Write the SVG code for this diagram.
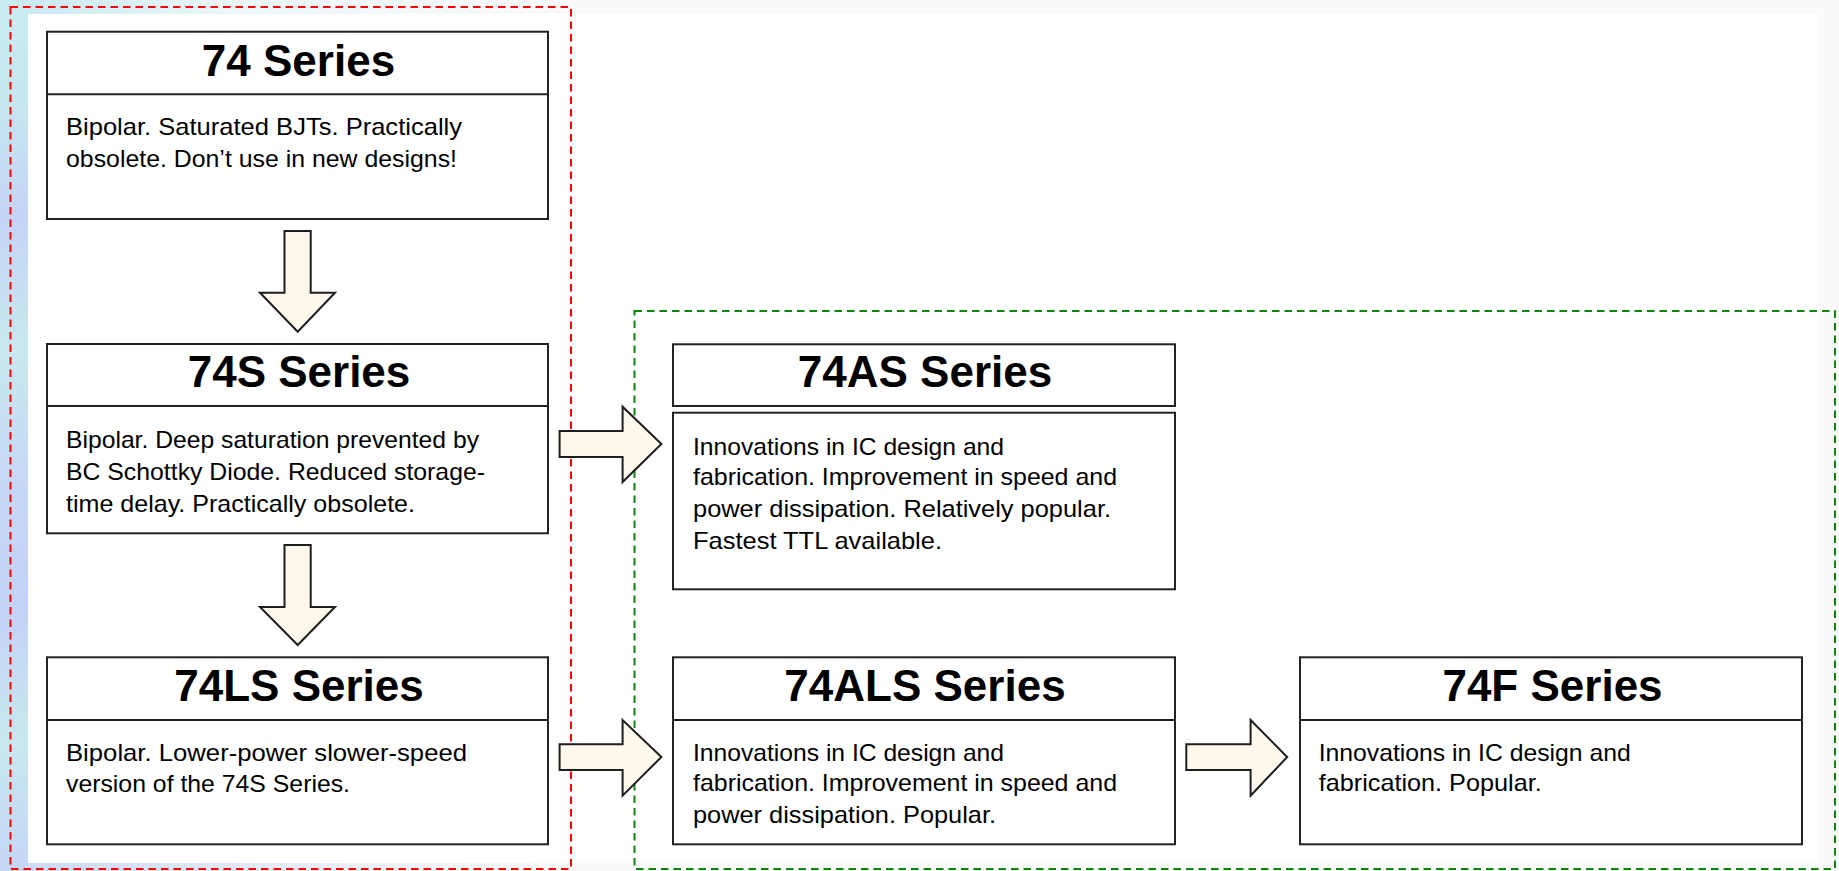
<svg xmlns="http://www.w3.org/2000/svg" width="1839" height="871" viewBox="0 0 1839 871">
<defs>
<linearGradient id="leftbg" x1="0" y1="0" x2="0" y2="1">
<stop offset="0" stop-color="#c9ecf0"/>
<stop offset="0.12" stop-color="#c6e6f0"/>
<stop offset="0.25" stop-color="#c4d4f6"/>
<stop offset="0.4" stop-color="#c8e8ee"/>
<stop offset="0.55" stop-color="#c6d8f6"/>
<stop offset="0.7" stop-color="#c3d2f7"/>
<stop offset="0.85" stop-color="#c8e8ee"/>
<stop offset="1" stop-color="#c4d6f6"/>
</linearGradient>
<linearGradient id="topbg" x1="0" y1="0" x2="1" y2="0">
<stop offset="0" stop-color="#c6e8f0"/>
<stop offset="0.12" stop-color="#eaf6f8"/>
<stop offset="0.3" stop-color="#fafafa"/>
<stop offset="1" stop-color="#fafafa"/>
</linearGradient>
<linearGradient id="botbg" x1="0" y1="0" x2="1" y2="0">
<stop offset="0" stop-color="#c8d8f6"/>
<stop offset="0.15" stop-color="#e4ecfa"/>
<stop offset="0.3" stop-color="#fafafa"/>
<stop offset="1" stop-color="#fafafa"/>
</linearGradient>
<style>
.box{fill:#ffffff;stroke:#222222;stroke-width:2}
.arrow{fill:#fff8ec;stroke:#1e1e1e;stroke-width:2;stroke-linejoin:miter}
.title{font-family:"Liberation Sans",Arial,sans-serif;font-weight:bold;font-size:44px;fill:#000;text-anchor:middle}
.body{font-family:"Liberation Sans",Arial,sans-serif;font-size:24px;fill:#000}
.grpred{fill:none;stroke:#ff0000;stroke-width:2;stroke-dasharray:7.5 5}
.grpgreen{fill:none;stroke:#0a870a;stroke-width:2;stroke-dasharray:7.5 5}
</style>
</defs>

<g id="background">
<rect x="0" y="0" width="1839" height="871" fill="#fafafa"/>
<rect x="0" y="0" width="1839" height="14" fill="url(#topbg)"/>
<rect x="0" y="863" width="1839" height="8" fill="url(#botbg)"/>
<rect x="0" y="0" width="28" height="871" fill="url(#leftbg)"/>
<rect x="28" y="14" width="1790" height="849" fill="#ffffff"/>
</g>

<g id="groups">
<rect class="grpred" x="10.5" y="7" width="560.5" height="862"/>
<rect class="grpgreen" x="634.5" y="311" width="1200.5" height="558"/>
</g>

<g id="connectors">
<path class="arrow" d="M284.5,231 H310.7 V292.7 H335 L297.7,331.7 L260,292.7 H284.5 Z"/>
<path class="arrow" d="M284.5,545 H310.7 V607 H335 L297.7,645 L260,607 H284.5 Z"/>
<path class="arrow" d="M559.6,431 H622.6 V406.7 L661.4,444 L622.6,482 V457 H559.6 Z"/>
<path class="arrow" d="M559.6,744.3 H622.6 V720 L661.4,757 L622.6,795.7 V770 H559.6 Z"/>
<path class="arrow" d="M1186.3,744.3 H1250.6 V720 L1287.2,757 L1250.6,795.7 V770 H1186.3 Z"/>
</g>

<g id="node-74">
<rect class="box" x="47" y="31.7" width="501" height="187.3"/>
<line x1="47" y1="94.3" x2="548" y2="94.3" stroke="#222" stroke-width="2"/>
<text class="title" x="298.5" y="76">74 Series</text>
<text class="body" x="66" y="135" textLength="396" lengthAdjust="spacingAndGlyphs">Bipolar. Saturated BJTs. Practically</text>
<text class="body" x="66" y="166.7" textLength="391" lengthAdjust="spacingAndGlyphs">obsolete. Don’t use in new designs!</text>
</g>

<g id="node-74S">
<rect class="box" x="47" y="344" width="501" height="189.3"/>
<line x1="47" y1="406" x2="548" y2="406" stroke="#222" stroke-width="2"/>
<text class="title" x="299" y="387.3">74S Series</text>
<text class="body" x="66" y="448.3" textLength="413" lengthAdjust="spacingAndGlyphs">Bipolar. Deep saturation prevented by</text>
<text class="body" x="66" y="480" textLength="419" lengthAdjust="spacingAndGlyphs">BC Schottky Diode. Reduced storage-</text>
<text class="body" x="66" y="512.3" textLength="349" lengthAdjust="spacingAndGlyphs">time delay. Practically obsolete.</text>
</g>

<g id="node-74LS">
<rect class="box" x="47" y="657.3" width="501" height="187"/>
<line x1="47" y1="720" x2="548" y2="720" stroke="#222" stroke-width="2"/>
<text class="title" x="299" y="701">74LS Series</text>
<text class="body" x="66" y="761" textLength="401" lengthAdjust="spacingAndGlyphs">Bipolar. Lower-power slower-speed</text>
<text class="body" x="66" y="791.7" textLength="284" lengthAdjust="spacingAndGlyphs">version of the 74S Series.</text>
</g>

<g id="node-74AS">
<rect class="box" x="673" y="344.3" width="502" height="61.7"/>
<rect class="box" x="673" y="412.7" width="502" height="176.6"/>
<text class="title" x="925" y="387.3">74AS Series</text>
<text class="body" x="693" y="455" textLength="311" lengthAdjust="spacingAndGlyphs">Innovations in IC design and</text>
<text class="body" x="693" y="485" textLength="424" lengthAdjust="spacingAndGlyphs">fabrication. Improvement in speed and</text>
<text class="body" x="693" y="517.3" textLength="418" lengthAdjust="spacingAndGlyphs">power dissipation. Relatively popular.</text>
<text class="body" x="693" y="549.3" textLength="249" lengthAdjust="spacingAndGlyphs">Fastest TTL available.</text>
</g>

<g id="node-74ALS">
<rect class="box" x="673" y="657.3" width="502" height="187"/>
<line x1="673" y1="720" x2="1175" y2="720" stroke="#222" stroke-width="2"/>
<text class="title" x="925" y="701">74ALS Series</text>
<text class="body" x="693" y="761" textLength="311" lengthAdjust="spacingAndGlyphs">Innovations in IC design and</text>
<text class="body" x="693" y="790.7" textLength="424" lengthAdjust="spacingAndGlyphs">fabrication. Improvement in speed and</text>
<text class="body" x="693" y="823.3" textLength="303" lengthAdjust="spacingAndGlyphs">power dissipation. Popular.</text>
</g>

<g id="node-74F">
<rect class="box" x="1300" y="657.3" width="502" height="187"/>
<line x1="1300" y1="720" x2="1802" y2="720" stroke="#222" stroke-width="2"/>
<text class="title" x="1552.5" y="701">74F Series</text>
<text class="body" x="1318.7" y="761" textLength="312" lengthAdjust="spacingAndGlyphs">Innovations in IC design and</text>
<text class="body" x="1318.7" y="790.7" textLength="223" lengthAdjust="spacingAndGlyphs">fabrication. Popular.</text>
</g>
</svg>
